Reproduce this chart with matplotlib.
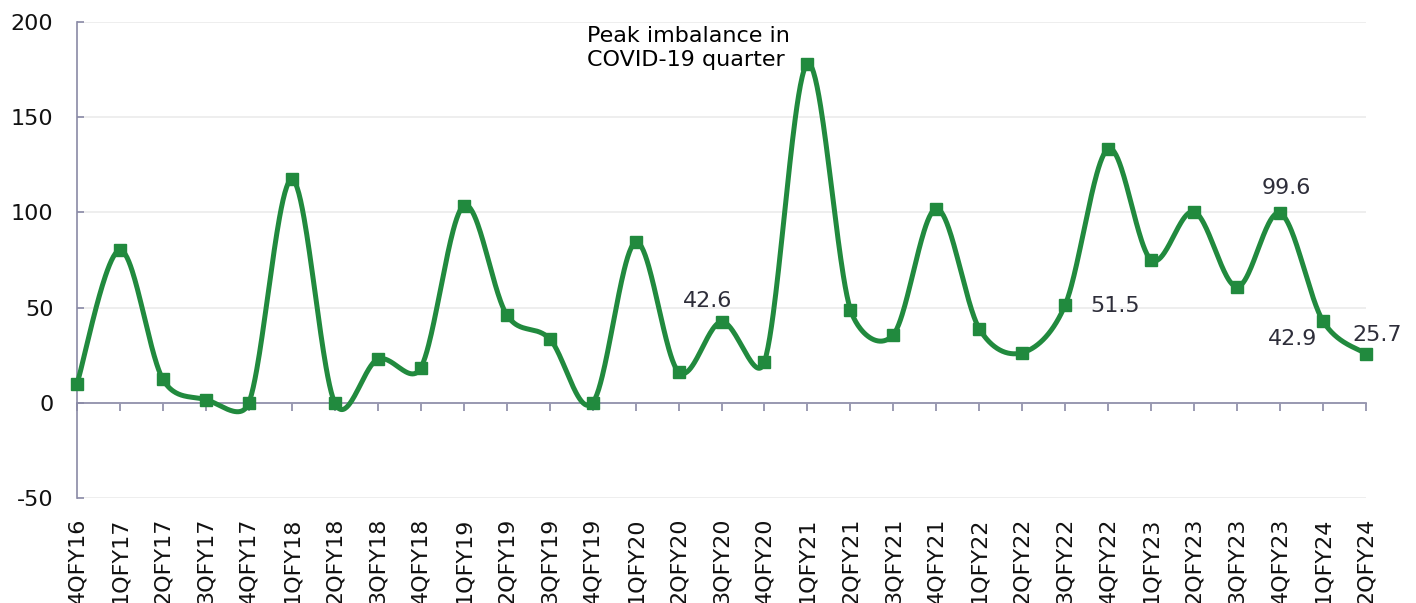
import numpy as np
import matplotlib
matplotlib.use("Agg")
import matplotlib.pyplot as plt

quarters = ["4QFY16", "1QFY17", "2QFY17", "3QFY17", "4QFY17", "1QFY18", "2QFY18",
            "3QFY18", "4QFY18", "1QFY19", "2QFY19", "3QFY19", "4QFY19", "1QFY20",
            "2QFY20", "3QFY20", "4QFY20", "1QFY21", "2QFY21", "3QFY21", "4QFY21",
            "1QFY22", "2QFY22", "3QFY22", "4QFY22", "1QFY23", "2QFY23", "3QFY23",
            "4QFY23", "1QFY24", "2QFY24"]
imbalance = [10.0, 80.2, 12.3, 1.7, 0.0, 117.3, 0.0, 22.9, 18.3, 103.5, 46.3, 33.6,
             0.0, 84.3, 16.3, 42.6, 21.6, 178.0, 49.0, 35.8, 101.9, 38.9, 26.3, 51.5,
             133.4, 75.1, 100.3, 60.9, 99.6, 42.9, 25.7]
yticks = [-50, 0, 50, 100, 150, 200]

# labelled points: (category, offset px x, offset px y, ha)
labelled = [("3QFY20", -14, 15, "center"),
            ("3QFY22", 25, -7, "left"),
            ("4QFY23", 6, 19, "center"),
            ("1QFY24", -30, -24, "center"),
            ("2QFY24", 11, 13, "center")]

GREEN = "#218a3e"
AXC = "#8a8aa6"
GRID = "#ebebeb"
TXT = "#2e2e3a"

plt.rcParams['font.family'] = ['DejaVu Sans']

fig = plt.figure(figsize=(14.16, 6.03), dpi=100)
ax = fig.add_axes([77/1416, 105/603, (1366-77)/1416, (498-22)/603])
ax.set_xlim(0, len(quarters) - 1)
ax.set_ylim(-50, 200)

x = np.arange(len(quarters), dtype=float)
y = np.array(imbalance, dtype=float)

# Excel-like smoothed line: Bezier segments, tension 1/6, control arms
# limited to half the segment length (computed in display space)
fig.canvas.draw()
P = ax.transData.transform(np.column_stack([x, y]))
n = len(P)
curve = []
t = np.linspace(0, 1, 50)[:, None]
for i in range(n - 1):
    p0 = P[i - 1] if i > 0 else P[i]
    p1 = P[i]
    p2 = P[i + 1]
    p3 = P[i + 2] if i + 2 < n else P[i + 1]
    d12 = np.hypot(*(p2 - p1))
    d02 = np.hypot(*(p2 - p0))
    d13 = np.hypot(*(p3 - p1))
    f1 = 1 / 6 if d02 == 0 else min(1 / 6, d12 / (2 * d02))
    f2 = 1 / 6 if d13 == 0 else min(1 / 6, d12 / (2 * d13))
    c1 = p1 + (p2 - p0) * f1
    c2 = p2 - (p3 - p1) * f2
    seg = ((1 - t) ** 3) * p1 + 3 * ((1 - t) ** 2) * t * c1 + 3 * (1 - t) * t ** 2 * c2 + t ** 3 * p2
    curve.append(seg if i == 0 else seg[1:])
curve = ax.transData.inverted().transform(np.vstack(curve))

ax.plot(curve[:, 0], curve[:, 1], color=GREEN, lw=3.6, solid_capstyle='round',
        clip_on=False, zorder=3)
ax.plot(x, y, linestyle='none', marker='s', markersize=9, color=GREEN,
        clip_on=False, zorder=4)

ax.set_yticks(yticks)
ax.set_yticklabels([str(v) for v in yticks])
ax.yaxis.grid(True, color=GRID, lw=1.2, zorder=0)
ax.set_axisbelow(True)

for s in ['top', 'right']:
    ax.spines[s].set_visible(False)
ax.spines['left'].set_color(AXC)
ax.spines['left'].set_linewidth(1.2)
ax.spines['bottom'].set_position(('data', 0))
ax.spines['bottom'].set_color(AXC)
ax.spines['bottom'].set_linewidth(1.2)
ax.spines['bottom'].set_zorder(2)

ax.tick_params(axis='y', direction='in', length=5, width=1.2, color=AXC,
               labelsize=16, pad=17, labelcolor='#111111')
ax.set_xticks(x)
ax.tick_params(axis='x', direction='out', length=5.5, width=1.2, color=AXC,
               labelbottom=False)

sec = ax.secondary_xaxis(0)
sec.set_xticks(x)
sec.set_xticklabels(quarters, rotation=90, ha='center', va='top')
sec.tick_params(axis='x', length=0, labelsize=16, pad=14, labelcolor='#111111')
sec.spines['bottom'].set_visible(False)

for cat, dx, dy, ha in labelled:
    i = quarters.index(cat)
    ax.annotate(f"{imbalance[i]:.1f}", xy=(x[i], y[i]), xytext=(dx, dy),
                textcoords='offset pixels', ha=ha, va='baseline',
                fontsize=16, color=TXT, zorder=5)

ipk = quarters.index("1QFY21")
ax.annotate("Peak imbalance in\nCOVID-19 quarter", xy=(x[ipk], y[ipk]),
            xytext=(-220, 38), textcoords='offset pixels', ha='left', va='top',
            fontsize=16, color='black', linespacing=1.25, zorder=5)

fig.savefig("out.png", dpi=100)
